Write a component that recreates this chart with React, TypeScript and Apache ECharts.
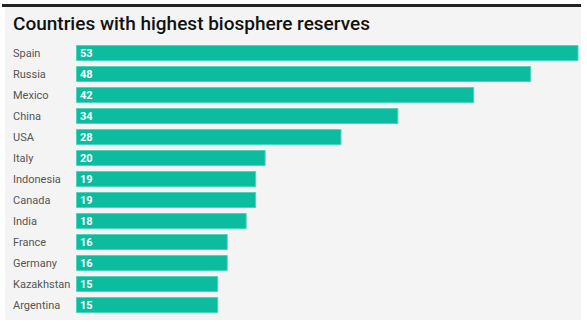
import React, { useEffect, useRef } from "react";
import * as echarts from "echarts";

const countries = ["Spain", "Russia", "Mexico", "China", "USA", "Italy", "Indonesia", "Canada", "India", "France", "Germany", "Kazakhstan", "Argentina"];
const reserves = [53, 48, 42, 34, 28, 20, 19, 19, 18, 16, 16, 15, 15];
const titleText = "Countries with highest biosphere reserves";

export default function App() {
  const ref = useRef<HTMLDivElement>(null);
  useEffect(() => {
    const chart = echarts.init(ref.current!, null, { renderer: "svg" });
    chart.setOption({
      animation: false,
      backgroundColor: "#ffffff",
      graphic: [
        { type: "rect", shape: { x: 5, y: 7, width: 576, height: 313 }, style: { fill: "#f4f4f4" }, z: -10 },
        { type: "rect", shape: { x: 2, y: 4, width: 579, height: 3 }, style: { fill: "#222222" }, z: -9 },
      ],
      title: {
        text: titleText,
        left: 13,
        top: 14,
        padding: 0,
        textStyle: { fontFamily: "Roboto", fontSize: 19, fontWeight: 500, color: "#111111" },
      },
      grid: { left: 76, right: 8.5, top: 42.5, bottom: 11.5, containLabel: false },
      xAxis: { type: "value", min: 0, max: 53, show: false },
      yAxis: {
        type: "category",
        data: countries,
        inverse: true,
        axisLine: { show: false },
        axisTick: { show: false },
        axisLabel: {
          align: "left",
          margin: 63,
          fontFamily: "Roboto",
          fontSize: 11,
          color: "#555555",
        },
      },
      series: [
        {
          type: "bar",
          data: reserves,
          barWidth: 16,
          itemStyle: { color: "#0bbc9e", borderColor: "#4fd3ba", borderWidth: 1 },
          label: {
            show: true,
            position: "insideLeft",
            distance: 4,
            color: "#ffffff",
            fontFamily: "Roboto",
            fontWeight: "bold",
            fontSize: 11,
          },
        },
      ],
    });
    return () => chart.dispose();
  }, []);
  return <div ref={ref} style={{ position: "fixed", left: 0, top: 0, width: 587, height: 327 }} />;
}
